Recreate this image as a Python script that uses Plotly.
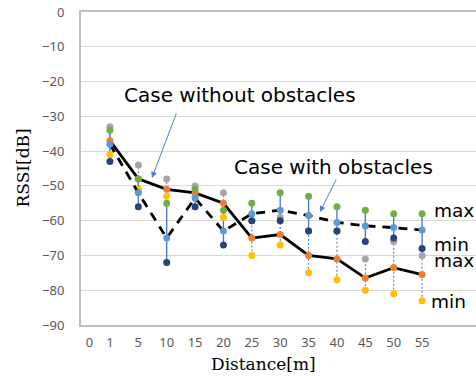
import plotly.graph_objects as go

# ---- data ----
distances = [1, 5, 10, 15, 20, 25, 30, 35, 40, 45, 50, 55]
tick_labels = ["0", "1", "5", "10", "15", "20", "25", "30", "35", "40", "45", "50", "55"]

# Case without obstacles (solid line)
avg_without = [-37, -48, -51, -52, -55, -65, -64, -70, -71, -76.5, -73.5, -75.5]
max_without = [-33, -44, -48, -50, -52, -60, -59, -63, -63, -71, -66, -70]
min_without = [-41, -51, -53, -53, -59, -70, -67, -75, -77, -80, -81, -83]

# Case with obstacles (dashed line)
avg_with = [-38, -52, -65, -53.5, -63, -58, -57, -58.5, -60.5, -61.5, -62, -62.7]
max_with = [-34, -48, -55, -51, -57, -55, -52, -53, -56, -57, -58, -58]
min_with = [-43, -56, -72, -56, -67, -60, -60, -63, -63, -66, -65, -68]

y_ticks = list(range(-90, 1, 10))

# ---- styles ----
GREY = "#a5a5a5"
ORANGE = "#ed7d31"
YELLOW = "#ffc000"
GREEN = "#70ad47"
LBLUE = "#5b9bd5"
NAVY = "#264478"
BAR = "#4472c4"
TICK_FONT = dict(family="Noto Sans", size=13, color="#595959")

xi = list(range(len(distances)))


def segments(lo, hi):
    xs, ys = [], []
    for i, (a, b) in enumerate(zip(lo, hi)):
        xs += [i, i, None]
        ys += [a, b, None]
    return xs, ys


fig = go.Figure()

# vertical range bars
sx, sy = segments(min_without, max_without)
fig.add_trace(go.Scatter(x=sx, y=sy, mode="lines",
                         line=dict(color=BAR, width=1, dash="2px,2px"),
                         hoverinfo="skip", showlegend=False))
sx, sy = segments(min_with, max_with)
fig.add_trace(go.Scatter(x=sx, y=sy, mode="lines",
                         line=dict(color=BAR, width=1.3),
                         hoverinfo="skip", showlegend=False))

# without obstacles
fig.add_trace(go.Scatter(x=xi, y=max_without, mode="markers",
                         marker=dict(color=GREY, size=7), showlegend=False))
fig.add_trace(go.Scatter(x=xi, y=min_without, mode="markers",
                         marker=dict(color=YELLOW, size=7), showlegend=False))
fig.add_trace(go.Scatter(x=xi, y=avg_without, mode="lines+markers",
                         line=dict(color="black", width=2.8),
                         marker=dict(color=ORANGE, size=7), showlegend=False))

# with obstacles
fig.add_trace(go.Scatter(x=xi, y=avg_with, mode="lines",
                         line=dict(color="black", width=2.8, dash="9px,7px"),
                         showlegend=False))
fig.add_trace(go.Scatter(x=xi, y=max_with, mode="markers",
                         marker=dict(color=GREEN, size=7), showlegend=False))
fig.add_trace(go.Scatter(x=xi, y=min_with, mode="markers",
                         marker=dict(color=NAVY, size=7), showlegend=False))
fig.add_trace(go.Scatter(x=xi, y=avg_with, mode="markers",
                         marker=dict(color=LBLUE, size=7), showlegend=False))

tick_pos = [-0.72] + xi

ann_font = dict(family="DejaVu Sans", size=20, color="black")
last = len(distances) - 1
lbl_font = dict(family="DejaVu Sans", size=18.5, color="black")
annotations = [
    dict(text="Case without obstacles", xref="paper", yref="paper", x=0.4025, y=0.7348,
         xanchor="center", yanchor="middle", showarrow=False, font=ann_font),
    dict(text="Case with obstacles", xref="paper", yref="paper", x=0.6405, y=0.5048,
         xanchor="center", yanchor="middle", showarrow=False, font=ann_font),
    dict(text="", x=1.48, y=-47.7, ax=25, ay=-66, showarrow=True, arrowhead=2,
         arrowsize=1.2, arrowwidth=1, arrowcolor="#4a7fd0"),
    dict(text="", x=7.4, y=-57.5, ax=17, ay=-34, showarrow=True, arrowhead=2,
         arrowsize=1.2, arrowwidth=1, arrowcolor="#4a7fd0"),
    dict(text="max", x=last, y=max_with[last], xanchor="left", yanchor="middle",
         xshift=10, yshift=3, showarrow=False, font=lbl_font),
    dict(text="min", x=last, y=min_with[last], xanchor="left", yanchor="middle",
         xshift=10, yshift=4, showarrow=False, font=lbl_font),
    dict(text="max", x=last, y=max_without[last], xanchor="left", yanchor="middle",
         xshift=10, yshift=-5, showarrow=False, font=lbl_font),
    dict(text="min", x=last, y=min_without[last], xanchor="left", yanchor="middle",
         xshift=7, yshift=-1, showarrow=False, font=lbl_font),
    dict(text="RSSI[dB]", xref="paper", yref="paper", x=0, y=0.5, xshift=-59,
         textangle=-90, xanchor="center", yanchor="middle", showarrow=False,
         font=dict(family="DejaVu Serif", size=17, color="black")),
    dict(text="Distance[m]", xref="paper", yref="paper", x=0.5, y=0, xshift=-15,
         yshift=-39, xanchor="center", yanchor="middle", showarrow=False,
         font=dict(family="DejaVu Serif", size=17, color="black")),
]

fig.update_layout(
    width=476, height=376,
    margin=dict(l=81, r=0, t=12, b=51, autoexpand=False),
    paper_bgcolor="white", plot_bgcolor="white",
    annotations=annotations,
    showlegend=False,
)
fig.update_xaxes(range=[-1.02, 12.9], tickmode="array", tickvals=tick_pos,
                 ticktext=tick_labels, showgrid=False, zeroline=False,
                 showline=True, linecolor="#bfbfbf", linewidth=2, mirror=True,
                 ticks="", tickfont=TICK_FONT, ticklabelstandoff=4)
fig.update_yaxes(range=[-90, 0], tickmode="array", tickvals=y_ticks,
                 showgrid=True, gridcolor="#d9d9d9", gridwidth=1, zeroline=False,
                 showline=True, linecolor="#bfbfbf", linewidth=2,
                 ticks="", tickfont=TICK_FONT, ticklabelstandoff=12)

fig.write_html("out.html", config={"displayModeBar": False},
               post_script="document.body.style.margin='0';document.body.style.overflow='hidden';")
